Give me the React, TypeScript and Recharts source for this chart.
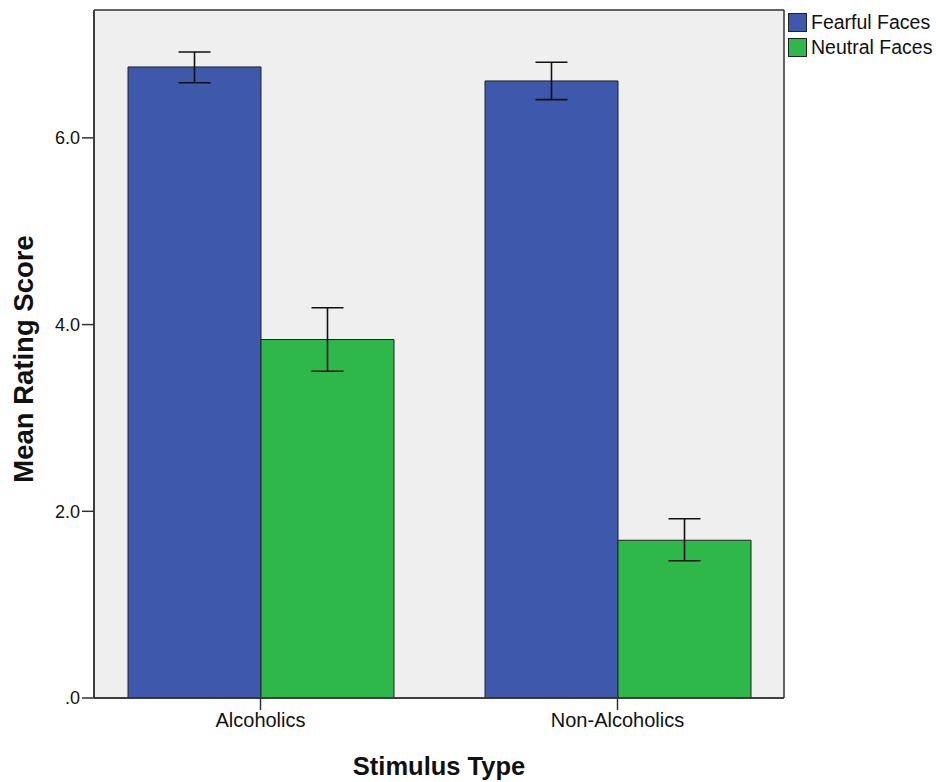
import React from 'react';
import { BarChart, Bar, XAxis, YAxis, CartesianGrid, ErrorBar, Legend, Label } from 'recharts';

// values (SPSS style bar chart, 95% CI error bars)
const groups = ['Alcoholics', 'Non-Alcoholics'];
const fearfulMean = [6.76, 6.61];
const fearfulLow = [6.59, 6.41];
const fearfulHigh = [6.92, 6.81];
const neutralMean = [3.84, 1.69];
const neutralLow = [3.5, 1.47];
const neutralHigh = [4.18, 1.92];
const yTicks = [0, 2, 4, 6];

const BLUE = '#3e58ac';
const GREEN = '#2fb84a';
const FONT = '"Liberation Sans", Arial, sans-serif';

const data = groups.map((g, i) => ({
  group: g,
  fearful: fearfulMean[i],
  fearfulErr: [fearfulMean[i] - fearfulLow[i], fearfulHigh[i] - fearfulMean[i]],
  neutral: neutralMean[i],
  neutralErr: [neutralMean[i] - neutralLow[i], neutralHigh[i] - neutralMean[i]],
}));

const renderLegend = (props: any) => {
  const items = props.payload || [];
  return (
    <div style={{ fontFamily: FONT, fontSize: 19.5, color: '#111' }}>
      {items.map((it: any) => (
        <div key={it.value} style={{ display: 'flex', alignItems: 'center', height: 25 }}>
          <span
            style={{
              display: 'inline-block',
              width: 17,
              height: 17,
              background: it.color,
              border: '1px solid #222',
              marginRight: 4,
            }}
          />
          <span>{it.value}</span>
        </div>
      ))}
    </div>
  );
};

const yLabel = (props: any) => {
  const vb = props.viewBox;
  const x = vb.x - 11;
  const y = vb.y + vb.height / 2 + 5;
  return (
    <text
      x={x}
      y={y}
      transform={`rotate(-90 ${x} ${y})`}
      textAnchor="middle"
      dominantBaseline="central"
      fontFamily={FONT}
      fontWeight="bold"
      fontSize={27.5}
      fill="#111"
    >
      Mean Rating Score
    </text>
  );
};

const xLabel = (props: any) => {
  const vb = props.viewBox;
  return (
    <text
      x={vb.x + vb.width / 2}
      y={vb.y + 68}
      textAnchor="middle"
      dominantBaseline="central"
      fontFamily={FONT}
      fontWeight="bold"
      fontSize={25.5}
      fill="#111"
    >
      Stimulus Type
    </text>
  );
};

// frame lines along the edges of the plot area
const frameH = ({ offset }: any) => [offset.top, offset.top + offset.height];
const frameV = ({ offset }: any) => [offset.left, offset.left + offset.width];

export default function App() {
  return (
    <div style={{ position: 'absolute', left: 0, top: 0, width: 936, height: 782, background: '#fff' }}>
      <BarChart
        width={936}
        height={782}
        data={data}
        margin={{ top: 10, right: 152, bottom: 4, left: 34 }}
        barGap={0}
        barCategoryGap={46}
      >
        <CartesianGrid
          fill="#efefef"
          stroke="#333"
          strokeWidth={1.5}
          horizontalCoordinatesGenerator={frameH}
          verticalCoordinatesGenerator={frameV}
        />
        <XAxis
          dataKey="group"
          height={80}
          padding={{ left: -12, right: -12 }}
          tickSize={12}
          tickMargin={3}
          axisLine={{ stroke: '#333', strokeWidth: 1.5 }}
          tickLine={{ stroke: '#333', strokeWidth: 1.5 }}
          tick={{ fill: '#111', fontSize: 20, fontFamily: FONT }}
        >
          <Label content={xLabel} />
        </XAxis>
        <YAxis
          width={60}
          domain={[0, 7.37]}
          ticks={yTicks}
          tickSize={12}
          tickMargin={2}
          allowDataOverflow
          tickFormatter={(v: number) => (v === 0 ? '.0' : v.toFixed(1))}
          axisLine={{ stroke: '#333', strokeWidth: 1.5 }}
          tickLine={{ stroke: '#333', strokeWidth: 1.5 }}
          tick={{ fill: '#111', fontSize: 18, fontFamily: FONT }}
        >
          <Label content={yLabel} />
        </YAxis>
        <Legend
          layout="vertical"
          align="center"
          verticalAlign="middle"
          content={renderLegend}
          wrapperStyle={{ top: 10, left: 788, width: 150 }}
        />
        <Bar dataKey="fearful" name="Fearful Faces" fill={BLUE} stroke="#222" strokeWidth={1} isAnimationActive={false}>
          <ErrorBar dataKey="fearfulErr" width={16} stroke="#111" strokeWidth={1.6} isAnimationActive={false} />
        </Bar>
        <Bar dataKey="neutral" name="Neutral Faces" fill={GREEN} stroke="#222" strokeWidth={1} isAnimationActive={false}>
          <ErrorBar dataKey="neutralErr" width={16} stroke="#111" strokeWidth={1.6} isAnimationActive={false} />
        </Bar>
      </BarChart>
    </div>
  );
}
